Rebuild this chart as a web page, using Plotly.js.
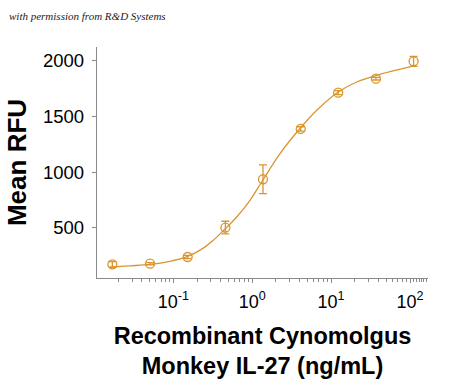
<!DOCTYPE html>
<html>
<head>
<meta charset="utf-8">
<script src="https://cdn.plot.ly/plotly-3.0.1.min.js"></script>
<style>html,body{margin:0;padding:0;background:#fff;}#chart{width:450px;height:383px;}</style>
</head>
<body>
<div id="chart"></div>
<script>
// Data points (concentration in ng/mL, Mean RFU, error)
const conc = [0.0169, 0.0508, 0.152, 0.457, 1.37, 4.12, 12.3, 37.0, 111];
const rfu = [169, 175, 235, 500, 935, 1388, 1715, 1841, 1997];
const err = [25, 10, 15, 57, 129, 20, 18, 12, 45];
// Fitted curve
const curveX = [0.0157, 0.0508, 0.0908, 0.152, 0.240, 0.321, 0.431, 0.637, 0.937, 1.36, 2.25, 4.16, 6.58, 12.3, 21.1, 37.8, 111];
const curveY = [145, 168, 196, 240, 315, 385, 472, 595, 745, 926, 1166, 1403, 1556, 1721, 1811, 1871, 1955];
const xTicks = [0.1, 1, 10, 100];
const xTickText = ['10<sup>-1</sup>', '10<sup>0</sup>', '10<sup>1</sup>', '10<sup>2</sup>'];
const yTicks = [500, 1000, 1500, 2000];

const col = '#D9952E';
const axisCol = '#8a8a8a';

const traces = [
  {x: curveX, y: curveY, mode: 'lines', type: 'scatter', line: {color: col, width: 1.3, shape: 'spline', smoothing: 0.8}, hoverinfo: 'skip'},
  {x: conc, y: rfu, mode: 'markers', type: 'scatter',
   marker: {symbol: 'circle-open', size: 9, color: col, line: {width: 1.3, color: col}},
   error_y: {type: 'data', array: err, visible: true, color: col, thickness: 1.3, width: 4}}
];

const layout = {
  width: 450, height: 383,
  margin: {l: 97, r: 22, t: 47, b: 105},
  paper_bgcolor: '#fff', plot_bgcolor: '#fff',
  showlegend: false,
  font: {family: 'Liberation Sans, Arial, sans-serif', color: '#000'},
  xaxis: {
    type: 'log', range: [-1.967, 2.228],
    tickvals: xTicks, ticktext: xTickText,
    showgrid: false, zeroline: false,
    showline: true, linecolor: axisCol, linewidth: 1.2,
    ticks: 'outside', ticklen: 4, tickcolor: axisCol,
    ticklabelstandoff: 3,
    minor: {ticks: 'outside', ticklen: 3, tickcolor: axisCol, tickvals: [0.02,0.03,0.04,0.05,0.06,0.07,0.08,0.09,0.2,0.3,0.4,0.5,0.6,0.7,0.8,0.9,2,3,4,5,6,7,8,9,20,30,40,50,60,70,80,90,110,120,130,140,150,160]},
    tickfont: {size: 18, color: '#000'},
    title: {text: '<b>Recombinant Cynomolgus<br>Monkey IL-27 (ng/mL)</b>', font: {size: 23.5, color: '#000'}, standoff: 16}
  },
  yaxis: {
    range: [46, 2126],
    tickvals: yTicks,
    showgrid: false, zeroline: false,
    showline: true, linecolor: axisCol, linewidth: 1.2,
    ticks: 'outside', ticklen: 4, tickcolor: axisCol,
    ticklabelstandoff: 4,
    tickfont: {size: 18.5, color: '#000'},
    title: {text: '<b>Mean RFU</b>', font: {size: 26, color: '#000'}, standoff: 8}
  },
  annotations: [{
    text: 'with permission from R&amp;D Systems', xref: 'paper', yref: 'paper',
    x: -0.272, y: 1.134, xanchor: 'left', yanchor: 'middle', showarrow: false,
    font: {family: 'Liberation Serif, DejaVu Serif, serif', size: 11, color: '#222', style: 'italic'}
  }]
};

Plotly.newPlot('chart', traces, layout, {displayModeBar: false, staticPlot: true});
</script>
</body>
</html>
